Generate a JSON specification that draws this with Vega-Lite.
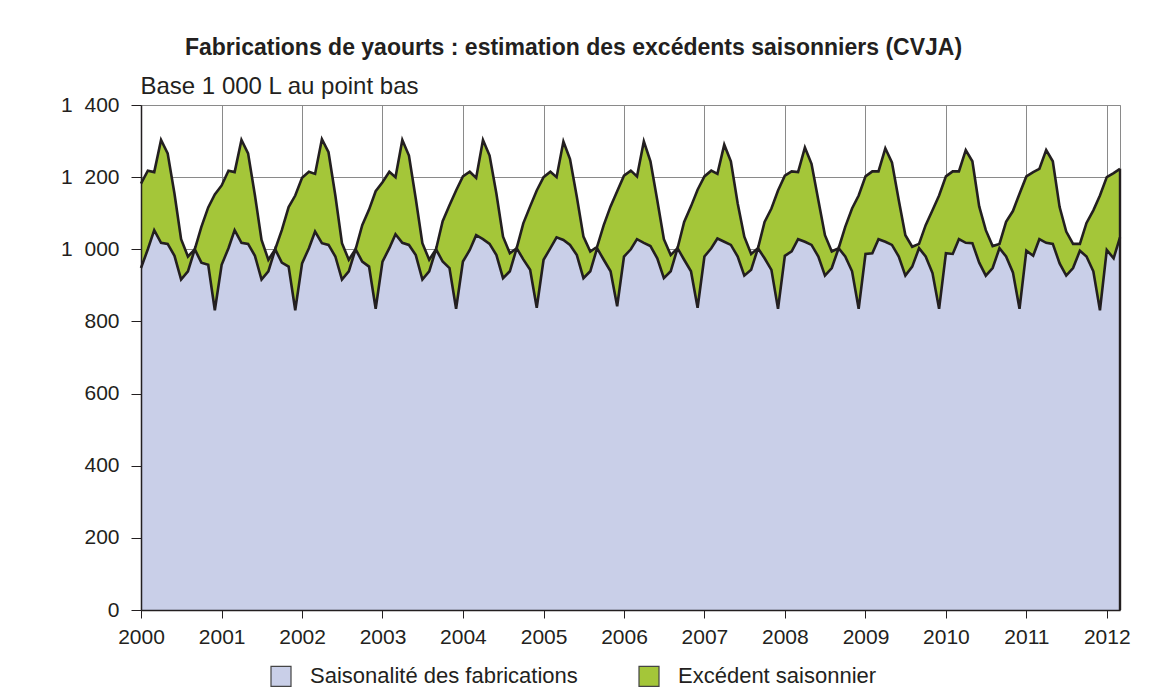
{
  "$schema": "https://vega.github.io/schema/vega-lite/v6.json",
  "width": 979,
  "height": 505,
  "autosize": {"type": "none"},
  "padding": {"left": 141, "top": 105, "right": 47, "bottom": 89},
  "background": "white",
  "title": {
    "text": "Fabrications de yaourts : estimation des excédents saisonniers (CVJA)",
    "anchor": "middle",
    "dx": -57,
    "offset": 14,
    "fontSize": 23,
    "fontWeight": "bold",
    "font": "Liberation Sans",
    "color": "#231f20"
  },
  "resolve": {"axis": {"x": "independent", "y": "independent"}},
  "config": {
    "view": {"stroke": "#8a8a8a", "strokeWidth": 1},
    "font": "Liberation Sans",
    "axis": {
      "labelFont": "Liberation Sans",
      "labelFontSize": 21,
      "labelColor": "#231f20",
      "gridColor": "#8a8a8a",
      "gridWidth": 1,
      "gridOpacity": 1,
      "domainColor": "#231f20",
      "tickColor": "#231f20",
      "domainWidth": 1.5,
      "tickWidth": 1
    }
  },
  "data": {
    "values": [
      {"mois": "2000-01-01", "saisonnalite": 948, "total": 1182},
      {"mois": "2000-02-01", "saisonnalite": 1000, "total": 1218},
      {"mois": "2000-03-01", "saisonnalite": 1053, "total": 1214},
      {"mois": "2000-04-01", "saisonnalite": 1018, "total": 1303},
      {"mois": "2000-05-01", "saisonnalite": 1015, "total": 1266},
      {"mois": "2000-06-01", "saisonnalite": 982, "total": 1154},
      {"mois": "2000-07-01", "saisonnalite": 916, "total": 1028},
      {"mois": "2000-08-01", "saisonnalite": 939, "total": 980},
      {"mois": "2000-09-01", "saisonnalite": 1000, "total": 1000},
      {"mois": "2000-10-01", "saisonnalite": 963, "total": 1062},
      {"mois": "2000-11-01", "saisonnalite": 957, "total": 1116},
      {"mois": "2000-12-01", "saisonnalite": 831, "total": 1152},
      {"mois": "2001-01-01", "saisonnalite": 957, "total": 1177},
      {"mois": "2001-02-01", "saisonnalite": 1003, "total": 1218},
      {"mois": "2001-03-01", "saisonnalite": 1053, "total": 1214},
      {"mois": "2001-04-01", "saisonnalite": 1018, "total": 1303},
      {"mois": "2001-05-01", "saisonnalite": 1015, "total": 1266},
      {"mois": "2001-06-01", "saisonnalite": 982, "total": 1150},
      {"mois": "2001-07-01", "saisonnalite": 916, "total": 1026},
      {"mois": "2001-08-01", "saisonnalite": 939, "total": 971},
      {"mois": "2001-09-01", "saisonnalite": 1000, "total": 1000},
      {"mois": "2001-10-01", "saisonnalite": 963, "total": 1053},
      {"mois": "2001-11-01", "saisonnalite": 952, "total": 1117},
      {"mois": "2001-12-01", "saisonnalite": 831, "total": 1149},
      {"mois": "2002-01-01", "saisonnalite": 961, "total": 1198},
      {"mois": "2002-02-01", "saisonnalite": 1003, "total": 1215},
      {"mois": "2002-03-01", "saisonnalite": 1049, "total": 1209},
      {"mois": "2002-04-01", "saisonnalite": 1017, "total": 1305},
      {"mois": "2002-05-01", "saisonnalite": 1012, "total": 1269},
      {"mois": "2002-06-01", "saisonnalite": 980, "total": 1149},
      {"mois": "2002-07-01", "saisonnalite": 916, "total": 1017},
      {"mois": "2002-08-01", "saisonnalite": 939, "total": 971},
      {"mois": "2002-09-01", "saisonnalite": 1000, "total": 1000},
      {"mois": "2002-10-01", "saisonnalite": 966, "total": 1067},
      {"mois": "2002-11-01", "saisonnalite": 952, "total": 1110},
      {"mois": "2002-12-01", "saisonnalite": 835, "total": 1161},
      {"mois": "2003-01-01", "saisonnalite": 966, "total": 1186},
      {"mois": "2003-02-01", "saisonnalite": 1003, "total": 1215},
      {"mois": "2003-03-01", "saisonnalite": 1042, "total": 1200},
      {"mois": "2003-04-01", "saisonnalite": 1018, "total": 1303},
      {"mois": "2003-05-01", "saisonnalite": 1012, "total": 1260},
      {"mois": "2003-06-01", "saisonnalite": 984, "total": 1140},
      {"mois": "2003-07-01", "saisonnalite": 916, "total": 1017},
      {"mois": "2003-08-01", "saisonnalite": 939, "total": 971},
      {"mois": "2003-09-01", "saisonnalite": 1000, "total": 1000},
      {"mois": "2003-10-01", "saisonnalite": 966, "total": 1078},
      {"mois": "2003-11-01", "saisonnalite": 948, "total": 1122},
      {"mois": "2003-12-01", "saisonnalite": 835, "total": 1163},
      {"mois": "2004-01-01", "saisonnalite": 966, "total": 1202},
      {"mois": "2004-02-01", "saisonnalite": 998, "total": 1215},
      {"mois": "2004-03-01", "saisonnalite": 1039, "total": 1198},
      {"mois": "2004-04-01", "saisonnalite": 1028, "total": 1303},
      {"mois": "2004-05-01", "saisonnalite": 1015, "total": 1260},
      {"mois": "2004-06-01", "saisonnalite": 984, "total": 1154},
      {"mois": "2004-07-01", "saisonnalite": 920, "total": 1035},
      {"mois": "2004-08-01", "saisonnalite": 939, "total": 989},
      {"mois": "2004-09-01", "saisonnalite": 1003, "total": 1003},
      {"mois": "2004-10-01", "saisonnalite": 972, "total": 1072},
      {"mois": "2004-11-01", "saisonnalite": 943, "total": 1119},
      {"mois": "2004-12-01", "saisonnalite": 838, "total": 1163},
      {"mois": "2005-01-01", "saisonnalite": 971, "total": 1200},
      {"mois": "2005-02-01", "saisonnalite": 1003, "total": 1215},
      {"mois": "2005-03-01", "saisonnalite": 1033, "total": 1200},
      {"mois": "2005-04-01", "saisonnalite": 1026, "total": 1299},
      {"mois": "2005-05-01", "saisonnalite": 1012, "total": 1250},
      {"mois": "2005-06-01", "saisonnalite": 984, "total": 1145},
      {"mois": "2005-07-01", "saisonnalite": 920, "total": 1035},
      {"mois": "2005-08-01", "saisonnalite": 939, "total": 994},
      {"mois": "2005-09-01", "saisonnalite": 1003, "total": 1007},
      {"mois": "2005-10-01", "saisonnalite": 971, "total": 1067},
      {"mois": "2005-11-01", "saisonnalite": 939, "total": 1119},
      {"mois": "2005-12-01", "saisonnalite": 842, "total": 1161},
      {"mois": "2006-01-01", "saisonnalite": 980, "total": 1204},
      {"mois": "2006-02-01", "saisonnalite": 1000, "total": 1218},
      {"mois": "2006-03-01", "saisonnalite": 1028, "total": 1202},
      {"mois": "2006-04-01", "saisonnalite": 1018, "total": 1299},
      {"mois": "2006-05-01", "saisonnalite": 1009, "total": 1244},
      {"mois": "2006-06-01", "saisonnalite": 975, "total": 1136},
      {"mois": "2006-07-01", "saisonnalite": 920, "total": 1028},
      {"mois": "2006-08-01", "saisonnalite": 939, "total": 984},
      {"mois": "2006-09-01", "saisonnalite": 1003, "total": 1003},
      {"mois": "2006-10-01", "saisonnalite": 971, "total": 1076},
      {"mois": "2006-11-01", "saisonnalite": 939, "total": 1119},
      {"mois": "2006-12-01", "saisonnalite": 838, "total": 1165},
      {"mois": "2007-01-01", "saisonnalite": 980, "total": 1202},
      {"mois": "2007-02-01", "saisonnalite": 1003, "total": 1218},
      {"mois": "2007-03-01", "saisonnalite": 1030, "total": 1209},
      {"mois": "2007-04-01", "saisonnalite": 1021, "total": 1290},
      {"mois": "2007-05-01", "saisonnalite": 1012, "total": 1244},
      {"mois": "2007-06-01", "saisonnalite": 980, "total": 1127},
      {"mois": "2007-07-01", "saisonnalite": 927, "total": 1035},
      {"mois": "2007-08-01", "saisonnalite": 943, "total": 987},
      {"mois": "2007-09-01", "saisonnalite": 1003, "total": 1003},
      {"mois": "2007-10-01", "saisonnalite": 975, "total": 1076},
      {"mois": "2007-11-01", "saisonnalite": 943, "total": 1113},
      {"mois": "2007-12-01", "saisonnalite": 835, "total": 1163},
      {"mois": "2008-01-01", "saisonnalite": 982, "total": 1204},
      {"mois": "2008-02-01", "saisonnalite": 994, "total": 1216},
      {"mois": "2008-03-01", "saisonnalite": 1028, "total": 1214},
      {"mois": "2008-04-01", "saisonnalite": 1021, "total": 1282},
      {"mois": "2008-05-01", "saisonnalite": 1012, "total": 1237},
      {"mois": "2008-06-01", "saisonnalite": 980, "total": 1136},
      {"mois": "2008-07-01", "saisonnalite": 927, "total": 1039},
      {"mois": "2008-08-01", "saisonnalite": 948, "total": 994},
      {"mois": "2008-09-01", "saisonnalite": 1003, "total": 1003},
      {"mois": "2008-10-01", "saisonnalite": 980, "total": 1062},
      {"mois": "2008-11-01", "saisonnalite": 939, "total": 1113},
      {"mois": "2008-12-01", "saisonnalite": 835, "total": 1149},
      {"mois": "2009-01-01", "saisonnalite": 987, "total": 1202},
      {"mois": "2009-02-01", "saisonnalite": 989, "total": 1216},
      {"mois": "2009-03-01", "saisonnalite": 1028, "total": 1216},
      {"mois": "2009-04-01", "saisonnalite": 1021, "total": 1280},
      {"mois": "2009-05-01", "saisonnalite": 1012, "total": 1241},
      {"mois": "2009-06-01", "saisonnalite": 980, "total": 1136},
      {"mois": "2009-07-01", "saisonnalite": 927, "total": 1039},
      {"mois": "2009-08-01", "saisonnalite": 952, "total": 1007},
      {"mois": "2009-09-01", "saisonnalite": 1003, "total": 1015},
      {"mois": "2009-10-01", "saisonnalite": 980, "total": 1067},
      {"mois": "2009-11-01", "saisonnalite": 934, "total": 1108},
      {"mois": "2009-12-01", "saisonnalite": 835, "total": 1149},
      {"mois": "2010-01-01", "saisonnalite": 989, "total": 1202},
      {"mois": "2010-02-01", "saisonnalite": 987, "total": 1216},
      {"mois": "2010-03-01", "saisonnalite": 1028, "total": 1216},
      {"mois": "2010-04-01", "saisonnalite": 1018, "total": 1275},
      {"mois": "2010-05-01", "saisonnalite": 1017, "total": 1244},
      {"mois": "2010-06-01", "saisonnalite": 963, "total": 1119},
      {"mois": "2010-07-01", "saisonnalite": 927, "total": 1053},
      {"mois": "2010-08-01", "saisonnalite": 948, "total": 1009},
      {"mois": "2010-09-01", "saisonnalite": 1003, "total": 1015},
      {"mois": "2010-10-01", "saisonnalite": 980, "total": 1076},
      {"mois": "2010-11-01", "saisonnalite": 936, "total": 1106},
      {"mois": "2010-12-01", "saisonnalite": 835, "total": 1154},
      {"mois": "2011-01-01", "saisonnalite": 996, "total": 1202},
      {"mois": "2011-02-01", "saisonnalite": 982, "total": 1214},
      {"mois": "2011-03-01", "saisonnalite": 1028, "total": 1223},
      {"mois": "2011-04-01", "saisonnalite": 1018, "total": 1275},
      {"mois": "2011-05-01", "saisonnalite": 1015, "total": 1244},
      {"mois": "2011-06-01", "saisonnalite": 961, "total": 1117},
      {"mois": "2011-07-01", "saisonnalite": 927, "total": 1049},
      {"mois": "2011-08-01", "saisonnalite": 948, "total": 1015},
      {"mois": "2011-09-01", "saisonnalite": 996, "total": 1015},
      {"mois": "2011-10-01", "saisonnalite": 980, "total": 1073},
      {"mois": "2011-11-01", "saisonnalite": 939, "total": 1108},
      {"mois": "2011-12-01", "saisonnalite": 831, "total": 1149},
      {"mois": "2012-01-01", "saisonnalite": 998, "total": 1200},
      {"mois": "2012-02-01", "saisonnalite": 975, "total": 1211},
      {"mois": "2012-03-01", "saisonnalite": 1033, "total": 1223}
    ]
  },
  "layer": [
    {
      "transform": [
        {"fold": ["total"], "as": ["serie", "valeur"]}
      ],
      "mark": {"type": "area", "opacity": 1},
      "encoding": {
        "x": {
          "field": "mois",
          "type": "temporal",
          "scale": {"type": "utc", "domain": [{"year": 2000, "month": 1, "date": 1, "utc": true}, {"year": 2012, "month": 3, "date": 1, "utc": true}], "nice": false},
          "axis": {
            "orient": "bottom",
            "title": null,
            "values": [
              {"year": 2000, "utc": true}, {"year": 2001, "utc": true}, {"year": 2002, "utc": true},
              {"year": 2003, "utc": true}, {"year": 2004, "utc": true}, {"year": 2005, "utc": true},
              {"year": 2006, "utc": true}, {"year": 2007, "utc": true}, {"year": 2008, "utc": true},
              {"year": 2009, "utc": true}, {"year": 2010, "utc": true}, {"year": 2011, "utc": true},
              {"year": 2012, "utc": true}
            ],
            "grid": true,
            "domain": false,
            "ticks": false,
            "labels": false,
            "zindex": 0
          }
        },
        "y": {
          "field": "valeur",
          "type": "quantitative",
          "scale": {"domain": [0, 1400], "nice": false},
          "axis": {
            "orient": "left",
            "title": null,
            "values": [0, 200, 400, 600, 800, 1000, 1200, 1400],
            "grid": true,
            "domain": false,
            "ticks": false,
            "labels": false,
            "zindex": 0
          }
        },
        "color": {
          "field": "serie",
          "type": "nominal",
          "scale": {
            "domain": ["saisonnalite", "total"],
            "range": ["#c9cfe8", "#a4c639"]
          },
          "legend": {
            "title": null,
            "orient": "none",
            "legendX": 129,
            "legendY": 560,
            "direction": "horizontal",
            "symbolType": "square",
            "symbolSize": 400,
            "symbolStrokeColor": "#444444",
            "symbolStrokeWidth": 1.2,
            "labelExpr": "datum.value == 'total' ? 'Excédent saisonnier' : 'Saisonalité des fabrications'",
            "labelFontSize": 22,
            "labelFont": "Liberation Sans",
            "labelColor": "#231f20",
            "labelOffset": 18,
            "columnPadding": 58,
            "labelLimit": 400
          }
        }
      }
    },
    {
      "transform": [
        {"fold": ["saisonnalite"], "as": ["serie", "valeur"]}
      ],
      "mark": {"type": "area", "opacity": 1},
      "encoding": {
        "x": {"field": "mois", "type": "temporal", "axis": null},
        "y": {"field": "valeur", "type": "quantitative", "axis": null},
        "color": {"field": "serie", "type": "nominal"}
      }
    },
    {
      "mark": {"type": "line", "color": "#231f20", "strokeWidth": 2.6, "strokeJoin": "miter"},
      "encoding": {
        "x": {
          "field": "mois",
          "type": "temporal",
          "axis": {
            "orient": "bottom",
            "title": null,
            "format": "%Y",
            "values": [
              {"year": 2000, "utc": true}, {"year": 2001, "utc": true}, {"year": 2002, "utc": true},
              {"year": 2003, "utc": true}, {"year": 2004, "utc": true}, {"year": 2005, "utc": true},
              {"year": 2006, "utc": true}, {"year": 2007, "utc": true}, {"year": 2008, "utc": true},
              {"year": 2009, "utc": true}, {"year": 2010, "utc": true}, {"year": 2011, "utc": true},
              {"year": 2012, "utc": true}
            ],
            "grid": false,
            "tickSize": 8,
            "labelPadding": 8,
            "zindex": 1,
            "labelFlush": false,
            "labelOverlap": false
          }
        },
        "y": {
          "field": "total",
          "type": "quantitative",
          "axis": {
            "orient": "left",
            "title": "Base 1 000 L au point bas",
            "titleAngle": 0,
            "titleX": -1,
            "titleY": -12,
            "titleAlign": "left",
            "titleBaseline": "alphabetic",
            "titleFontSize": 24,
            "titleFontWeight": "normal",
            "titleFont": "Liberation Sans",
            "titleColor": "#231f20",
            "values": [0, 200, 400, 600, 800, 1000, 1200, 1400],
            "labelExpr": "replace(format(datum.value, ','), ',', '\u2007')",
            "grid": false,
            "tickSize": 10,
            "labelPadding": 12,
            "zindex": 1
          }
        }
      }
    },
    {
      "mark": {"type": "line", "color": "#231f20", "strokeWidth": 2.6, "strokeJoin": "miter"},
      "encoding": {
        "x": {"field": "mois", "type": "temporal", "axis": null},
        "y": {"field": "saisonnalite", "type": "quantitative", "axis": null}
      }
    },
    {
      "transform": [{"filter": {"field": "mois", "equal": {"year": 2012, "month": 3, "date": 1, "utc": true}}}],
      "mark": {"type": "rule", "color": "#231f20", "strokeWidth": 2.4},
      "encoding": {
        "x": {"field": "mois", "type": "temporal", "axis": null},
        "y": {"field": "total", "type": "quantitative", "axis": null},
        "y2": {"datum": 0}
      }
    }
  ]
}
